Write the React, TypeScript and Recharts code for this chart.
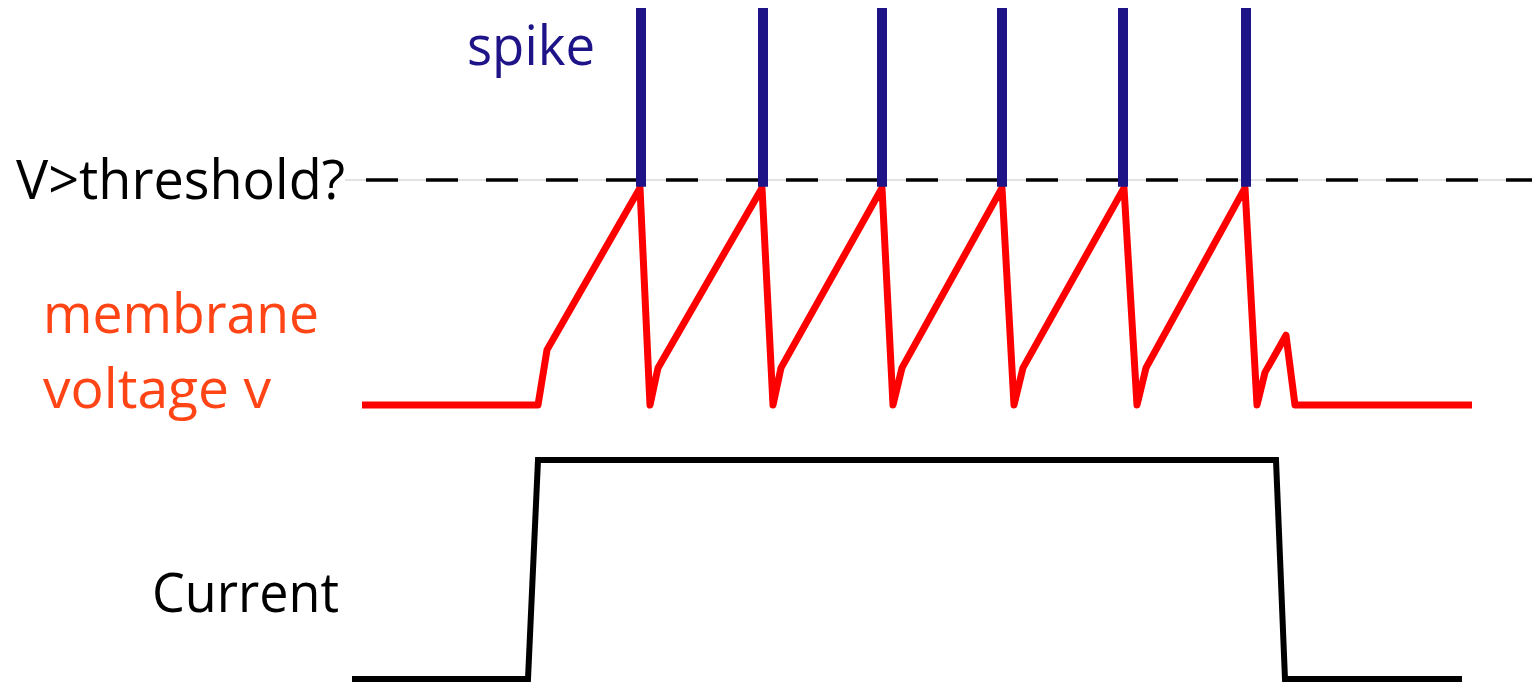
import React from 'react';
import { ComposedChart, Line, XAxis, YAxis, ReferenceLine, Customized } from 'recharts';

// time in ms, voltage in mV, current in arbitrary units
const voltageTimes = [1.0, 18.6, 19.5, 28.8, 29.8, 30.6, 41.0, 42.1, 42.9, 53.0, 54.1, 55.0, 65.0, 66.2, 67.1, 77.2, 78.5, 79.4, 89.3, 90.5, 91.3, 93.4, 94.3, 112.0];
const voltageValues = [-70, -70, -65.1, -50.7, -70, -66.7, -50.7, -70, -66.7, -50.7, -70, -66.7, -50.7, -70, -66.7, -50.7, -70, -66.7, -50.7, -70, -67.1, -63.8, -70, -70];

const currentTimes = [0, 17.6, 18.6, 92.4, 93.3, 111.0];
const currentValues = [0, 0, 1, 1, 0, 0];

const spikeTimes = [28.9, 41.1, 53.0, 65.0, 77.1, 89.4];
const spikeBase = -50.6;
const spikeTop = -34.7;

const threshold = -50;
const thresholdStart = 1.4;
const tMin = -35.2;
const tMax = 118;

const voltageData = voltageTimes.map((t, i) => ({ t, v: voltageValues[i] }));
const currentData = currentTimes.map((t, i) => ({ t, i: currentValues[i] }));
const spikeData = spikeTimes.flatMap(t => [
  { t, s: spikeBase },
  { t, s: spikeTop },
  { t, s: null },
]);

const NAVY = '#1e1387';
const ORANGE = '#ff4516';
const FONT = '"Open Sans", sans-serif';

const Labels = () => (
  <g fontFamily={FONT} fontSize={54}>
    <text x={467} y={65} fill={NAVY} textLength={128} lengthAdjust="spacingAndGlyphs">spike</text>
    <text x={16} y={199} fill="#000" textLength={329} lengthAdjust="spacingAndGlyphs">V&gt;threshold?</text>
    <text x={43} y={333} fill={ORANGE} textLength={276} lengthAdjust="spacingAndGlyphs">membrane</text>
    <text x={43} y={408} fill={ORANGE} textLength={228} lengthAdjust="spacingAndGlyphs">voltage v</text>
    <text x={152} y={612} fill="#000" textLength={187} lengthAdjust="spacingAndGlyphs">Current</text>
  </g>
);

export default function App() {
  return (
    <div style={{ position: 'absolute', left: 0, top: 0, background: '#fff' }}>
      <ComposedChart width={1532} height={682} margin={{ top: 0, right: 0, bottom: 0, left: 0 }}>
        <XAxis dataKey="t" type="number" domain={[tMin, tMax]} allowDataOverflow hide />
        <YAxis yAxisId="v" type="number" domain={[-94.622, -34]} allowDataOverflow hide />
        <YAxis yAxisId="i" type="number" domain={[-0.0137, 3.1005]} allowDataOverflow hide />

        <ReferenceLine
          yAxisId="v"
          segment={[{ x: -0.7, y: threshold }, { x: tMax, y: threshold }]}
          stroke="#c4c4c4"
          strokeWidth={1}
        />
        <ReferenceLine
          yAxisId="v"
          segment={[{ x: thresholdStart, y: threshold }, { x: tMax, y: threshold }]}
          stroke="#000"
          strokeWidth={3.5}
          strokeDasharray="32 28"
        />

        <Line
          yAxisId="v"
          data={voltageData}
          dataKey="v"
          type="linear"
          stroke="#ff0000"
          strokeWidth={7}
          strokeLinejoin="round"
          dot={false}
          activeDot={false}
          isAnimationActive={false}
        />
        <Line
          yAxisId="v"
          data={spikeData}
          dataKey="s"
          type="linear"
          stroke={NAVY}
          strokeWidth={10}
          strokeLinecap="butt"
          connectNulls={false}
          dot={false}
          activeDot={false}
          isAnimationActive={false}
        />
        <Line
          yAxisId="i"
          data={currentData}
          dataKey="i"
          type="linear"
          stroke="#000"
          strokeWidth={6}
          strokeLinejoin="miter"
          dot={false}
          activeDot={false}
          isAnimationActive={false}
        />
        <Customized component={Labels} />
      </ComposedChart>
    </div>
  );
}
